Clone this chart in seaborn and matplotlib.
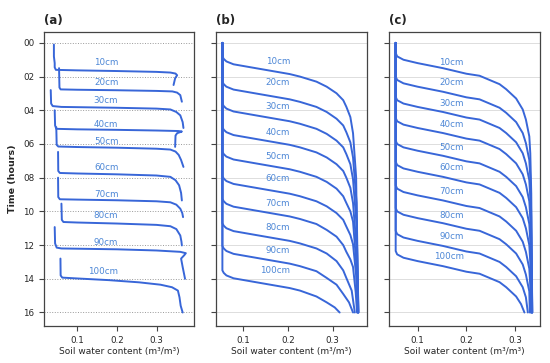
import matplotlib
matplotlib.use("Agg")
import matplotlib.pyplot as plt
import pandas as pd
import seaborn as sns

# sensor depths, one trace per depth in every panel
DEPTHS = ["10cm", "20cm", "30cm", "40cm", "50cm", "60cm", "70cm", "80cm", "90cm", "100cm"]

HOUR_TICKS = [0, 2, 4, 6, 8, 10, 12, 14, 16]
HOUR_LABELS = ["00", "02", "04", "06", "08", "10", "12", "14", "16"]
SWC_TICKS = [0.1, 0.2, 0.3]

# (a) measured soil water content (m3/m3) vs time (hours)
A_SWC = [
    [0.041, 0.041, 0.043, 0.043, 0.046, 0.10, 0.20, 0.30, 0.335, 0.348, 0.352, 0.347, 0.343],
    [0.054, 0.055, 0.058, 0.10, 0.20, 0.30, 0.34, 0.352, 0.36, 0.364],
    [0.033, 0.034, 0.038, 0.06, 0.20, 0.30, 0.335, 0.35, 0.36, 0.366, 0.368],
    [0.043, 0.044, 0.047, 0.10, 0.20, 0.30, 0.355, 0.364, 0.352, 0.348, 0.347],
    [0.047, 0.048, 0.052, 0.10, 0.20, 0.30, 0.335, 0.348, 0.356, 0.362, 0.368],
    [0.0515, 0.052, 0.056, 0.10, 0.20, 0.30, 0.335, 0.348, 0.357, 0.362, 0.364],
    [0.0515, 0.052, 0.056, 0.10, 0.20, 0.30, 0.335, 0.35, 0.36, 0.365, 0.367],
    [0.06, 0.061, 0.065, 0.10, 0.20, 0.30, 0.335, 0.35, 0.36, 0.363, 0.364],
    [0.043, 0.044, 0.048, 0.06, 0.20, 0.30, 0.36, 0.374, 0.37, 0.362, 0.366, 0.372],
    [0.0575, 0.058, 0.062, 0.10, 0.18, 0.256, 0.31, 0.339, 0.354, 0.358, 0.361, 0.366],
]
A_TIME = [
    [0.1, 0.8, 1.2, 1.45, 1.6, 1.63, 1.67, 1.72, 1.76, 1.82, 1.92, 2.1, 2.5],
    [1.5, 2.65, 2.76, 2.78, 2.81, 2.85, 2.88, 2.95, 3.1, 3.49],
    [2.8, 3.6, 3.75, 3.8, 3.85, 3.9, 3.95, 4.1, 4.3, 4.7, 5.05],
    [4.0, 4.9, 5.1, 5.13, 5.16, 5.2, 5.23, 5.26, 5.36, 5.5, 6.17],
    [5.0, 6.05, 6.15, 6.18, 6.22, 6.28, 6.33, 6.45, 6.65, 6.95, 7.36],
    [6.47, 7.6, 7.72, 7.75, 7.8, 7.87, 7.95, 8.15, 8.45, 8.9, 9.35],
    [8.0, 9.15, 9.28, 9.3, 9.34, 9.4, 9.46, 9.6, 9.84, 10.1, 10.34],
    [9.54, 10.5, 10.63, 10.66, 10.72, 10.8, 10.88, 11.05, 11.43, 11.8, 12.02],
    [10.93, 11.9, 12.15, 12.2, 12.25, 12.32, 12.4, 12.48, 12.6, 12.8, 13.3, 14.0],
    [12.8, 13.8, 13.93, 13.98, 14.08, 14.21, 14.35, 14.5, 14.7, 15.1, 15.6, 16.0],
]

# (b) simulated
B_SWC = [
    [0.053, 0.053, 0.056, 0.062, 0.078, 0.13, 0.204, 0.227, 0.264, 0.287, 0.309, 0.324, 0.331, 0.340, 0.346, 0.353, 0.357],
    [0.053, 0.053, 0.056, 0.062, 0.078, 0.13, 0.204, 0.227, 0.264, 0.287, 0.309, 0.324, 0.331, 0.340, 0.346, 0.354, 0.358],
    [0.053, 0.053, 0.056, 0.062, 0.078, 0.13, 0.204, 0.227, 0.264, 0.287, 0.309, 0.324, 0.331, 0.340, 0.346, 0.354, 0.358],
    [0.053, 0.053, 0.056, 0.062, 0.078, 0.13, 0.204, 0.227, 0.264, 0.287, 0.309, 0.324, 0.331, 0.340, 0.346, 0.354, 0.358],
    [0.053, 0.053, 0.056, 0.062, 0.078, 0.13, 0.204, 0.227, 0.264, 0.287, 0.309, 0.324, 0.331, 0.340, 0.346, 0.353, 0.357],
    [0.053, 0.053, 0.056, 0.062, 0.078, 0.13, 0.204, 0.227, 0.264, 0.287, 0.309, 0.324, 0.331, 0.340, 0.346, 0.353, 0.356],
    [0.053, 0.053, 0.056, 0.062, 0.078, 0.13, 0.204, 0.227, 0.264, 0.287, 0.309, 0.324, 0.331, 0.340, 0.346, 0.352, 0.355],
    [0.053, 0.053, 0.056, 0.062, 0.078, 0.13, 0.204, 0.227, 0.264, 0.287, 0.309, 0.324, 0.331, 0.343, 0.350],
    [0.053, 0.053, 0.056, 0.062, 0.078, 0.13, 0.204, 0.227, 0.264, 0.287, 0.309, 0.324, 0.337, 0.346],
    [0.053, 0.053, 0.056, 0.062, 0.078, 0.13, 0.204, 0.227, 0.264, 0.287, 0.305, 0.316],
]
B_TIME = [
    [0.0, 0.8, 0.95, 1.1, 1.27, 1.51, 1.85, 2.0, 2.3, 2.6, 2.99, 3.4, 3.79, 4.4, 5.36, 8.0, 16.0],
    [0.0, 2.3, 2.45, 2.6, 2.77, 3.01, 3.35, 3.5, 3.8, 4.1, 4.5, 4.9, 5.3, 5.9, 6.8, 9.5, 16.0],
    [0.0, 3.6, 3.75, 3.9, 4.07, 4.31, 4.65, 4.8, 5.1, 5.4, 5.8, 6.2, 6.6, 7.2, 8.1, 10.8, 16.0],
    [0.0, 5.0, 5.15, 5.3, 5.47, 5.71, 6.05, 6.2, 6.5, 6.8, 7.2, 7.6, 8.0, 8.6, 9.5, 12.2, 16.0],
    [0.0, 6.45, 6.6, 6.75, 6.92, 7.16, 7.5, 7.65, 7.95, 8.25, 8.65, 9.1, 9.5, 10.0, 10.6, 13.0, 16.0],
    [0.0, 7.9, 8.05, 8.2, 8.37, 8.61, 8.95, 9.1, 9.4, 9.7, 10.1, 10.5, 10.9, 11.4, 11.95, 13.8, 16.0],
    [0.0, 9.25, 9.4, 9.55, 9.72, 9.96, 10.3, 10.45, 10.75, 11.1, 11.5, 12.0, 12.4, 12.85, 13.3, 14.8, 16.0],
    [0.0, 10.7, 10.85, 11.0, 11.17, 11.41, 11.75, 11.9, 12.2, 12.5, 12.95, 13.5, 13.95, 14.7, 16.0],
    [0.0, 12.05, 12.2, 12.35, 12.52, 12.76, 13.1, 13.25, 13.55, 13.95, 14.35, 14.9, 15.4, 16.0],
    [0.0, 13.5, 13.65, 13.8, 13.97, 14.21, 14.55, 14.7, 15.05, 15.4, 15.7, 16.0],
]

# (c) simulated
C_SWC = [
    [0.055, 0.055, 0.058, 0.071, 0.10, 0.152, 0.20, 0.227, 0.268, 0.2816, 0.302, 0.3155, 0.322, 0.329, 0.331, 0.333, 0.335],
    [0.055, 0.055, 0.058, 0.071, 0.10, 0.152, 0.20, 0.227, 0.268, 0.2816, 0.302, 0.3155, 0.322, 0.329, 0.331, 0.333, 0.335],
    [0.055, 0.055, 0.058, 0.071, 0.10, 0.152, 0.20, 0.227, 0.268, 0.2816, 0.302, 0.3155, 0.322, 0.329, 0.331, 0.333, 0.335],
    [0.055, 0.055, 0.058, 0.071, 0.10, 0.152, 0.20, 0.227, 0.268, 0.2816, 0.302, 0.3155, 0.322, 0.329, 0.331, 0.333, 0.334],
    [0.055, 0.055, 0.058, 0.071, 0.10, 0.152, 0.20, 0.227, 0.268, 0.2816, 0.302, 0.3155, 0.322, 0.329, 0.331, 0.333, 0.334],
    [0.055, 0.055, 0.058, 0.071, 0.10, 0.152, 0.20, 0.227, 0.268, 0.2816, 0.302, 0.3155, 0.322, 0.329, 0.331, 0.333, 0.334],
    [0.055, 0.055, 0.058, 0.071, 0.10, 0.152, 0.20, 0.227, 0.268, 0.2816, 0.302, 0.3155, 0.322, 0.329, 0.331, 0.332],
    [0.055, 0.055, 0.058, 0.071, 0.10, 0.152, 0.20, 0.227, 0.268, 0.2816, 0.302, 0.3155, 0.322, 0.329, 0.330],
    [0.055, 0.055, 0.058, 0.071, 0.10, 0.152, 0.20, 0.227, 0.268, 0.2816, 0.302, 0.3155, 0.322, 0.326],
    [0.055, 0.055, 0.058, 0.071, 0.10, 0.152, 0.20, 0.227, 0.268, 0.2816, 0.302, 0.312, 0.319],
]
C_TIME = [
    [0.0, 0.6, 0.8, 1.0, 1.2, 1.5, 1.83, 1.95, 2.45, 2.75, 3.3, 3.95, 4.55, 5.55, 6.55, 8.95, 16.0],
    [0.0, 2.0, 2.2, 2.4, 2.6, 2.9, 3.23, 3.35, 3.85, 4.15, 4.7, 5.35, 5.95, 6.95, 7.95, 10.35, 16.0],
    [0.0, 3.2, 3.4, 3.6, 3.8, 4.1, 4.43, 4.55, 5.05, 5.35, 5.9, 6.55, 7.15, 8.15, 9.15, 11.55, 16.0],
    [0.0, 4.45, 4.65, 4.85, 5.05, 5.35, 5.68, 5.8, 6.3, 6.6, 7.15, 7.8, 8.4, 9.4, 10.4, 12.8, 16.0],
    [0.0, 5.8, 6.0, 6.2, 6.4, 6.7, 7.03, 7.15, 7.65, 7.95, 8.5, 9.15, 9.75, 10.75, 11.75, 14.15, 16.0],
    [0.0, 7.05, 7.25, 7.45, 7.65, 7.95, 8.28, 8.4, 8.9, 9.2, 9.75, 10.4, 11.0, 12.0, 13.0, 15.4, 16.0],
    [0.0, 8.45, 8.65, 8.85, 9.05, 9.35, 9.68, 9.8, 10.3, 10.6, 11.15, 11.8, 12.4, 13.4, 14.4, 16.0],
    [0.0, 9.8, 10.0, 10.2, 10.4, 10.7, 11.03, 11.15, 11.65, 11.95, 12.5, 13.15, 13.75, 14.75, 16.0],
    [0.0, 11.15, 11.35, 11.55, 11.75, 12.05, 12.38, 12.5, 13.0, 13.3, 13.85, 14.5, 15.1, 16.0],
    [0.0, 12.35, 12.55, 12.75, 12.95, 13.25, 13.58, 13.7, 14.2, 14.5, 15.05, 15.5, 16.0],
]

# hour at which each depth label sits in each panel
A_LABEL_T = [1.15, 2.34, 3.39, 4.82, 5.85, 7.42, 9.0, 10.24, 11.83, 13.55]
B_LABEL_T = [1.11, 2.34, 3.79, 5.33, 6.73, 8.06, 9.54, 10.93, 12.32, 13.51]
C_LABEL_T = [1.15, 2.36, 3.59, 4.82, 6.21, 7.42, 8.81, 10.24, 11.47, 12.68]

LINE_COLOR = "#3866d8"
TEXT_COLOR = "#4d87d6"


def to_frame(swc, time):
    rows = []
    for depth, xs, ts in zip(DEPTHS, swc, time):
        for i, (x, t) in enumerate(zip(xs, ts)):
            rows.append({"depth": depth, "step": i, "swc": x, "time": t})
    return pd.DataFrame(rows)


def draw_panel(ax, swc, time, label_t, label_x, xlim, title, grid_style):
    df = to_frame(swc, time)
    sns.lineplot(data=df, x="swc", y="time", units="depth", estimator=None,
                 sort=False, color=LINE_COLOR, lw=1.4, ax=ax, legend=False)

    for depth, t in zip(DEPTHS, label_t):
        ax.text(label_x, t, depth, color=TEXT_COLOR, fontsize=6.3,
                ha="right", va="center")

    ax.set_xlim(*xlim)
    ax.set_ylim(16.8, -0.65)
    ax.set_xticks(SWC_TICKS)
    ax.set_xticklabels([f"{v:.1f}" for v in SWC_TICKS])
    ax.set_yticks(HOUR_TICKS)
    ax.set_xlabel("Soil water content (m\u00b3/m\u00b3)", fontsize=6.5, labelpad=2)
    ax.set_ylabel("")
    ax.tick_params(labelsize=6.3, length=3.5, width=0.8, color="#444444")
    ax.set_title(title, loc="left", fontsize=8.5, fontweight="bold", pad=6)

    if grid_style == ":":
        ax.yaxis.grid(True, linestyle=":", color="#999999", lw=0.7)
    else:
        ax.yaxis.grid(True, linestyle="-", color="#dddddd", lw=0.7)
    ax.set_axisbelow(True)

    for s in ax.spines.values():
        s.set_visible(True)
        s.set_color("#444444")
        s.set_linewidth(0.9)


sns.set_style("ticks")
plt.rcParams["font.family"] = ["DejaVu Sans"]

fig = plt.figure(figsize=(5.5, 3.63), dpi=100)
ax_a = fig.add_axes([0.080, 0.102, 0.273, 0.810])
ax_b = fig.add_axes([0.393, 0.102, 0.274, 0.810])
ax_c = fig.add_axes([0.707, 0.102, 0.274, 0.810])

draw_panel(ax_a, A_SWC, A_TIME, A_LABEL_T, 0.2035, (0.016, 0.395), "(a)", ":")
draw_panel(ax_b, B_SWC, B_TIME, B_LABEL_T, 0.2045, (0.039, 0.377), "(b)", "-")
draw_panel(ax_c, C_SWC, C_TIME, C_LABEL_T, 0.1945, (0.041, 0.350), "(c)", "-")

ax_a.set_yticklabels(HOUR_LABELS)
ax_a.set_ylabel("Time (hours)", fontsize=6.8, fontweight="bold")
ax_b.set_yticklabels([])
ax_c.set_yticklabels([])

fig.savefig("out.png", dpi=100)
